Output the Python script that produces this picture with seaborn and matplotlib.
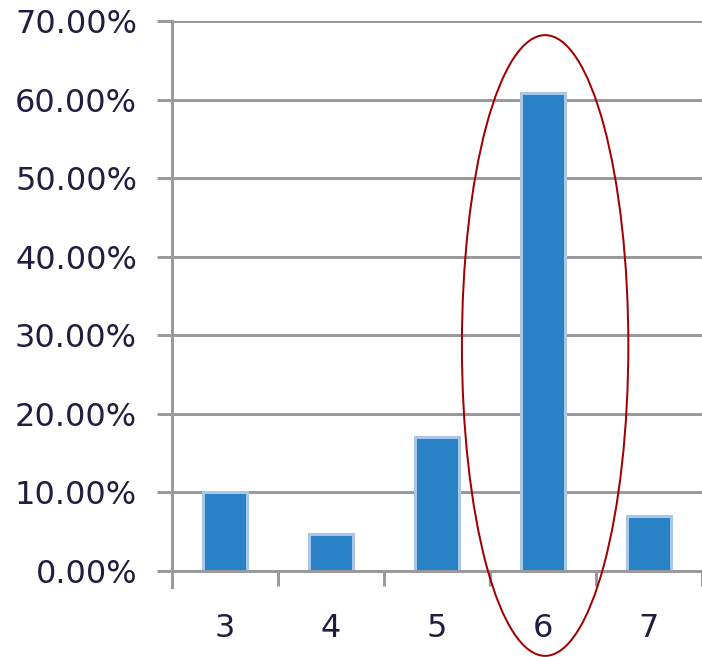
import matplotlib
matplotlib.use("Agg")
import matplotlib.pyplot as plt
from matplotlib.patches import Ellipse
from matplotlib.ticker import FuncFormatter, FixedLocator
import seaborn as sns
import pandas as pd

# Share of responses per score
scores = ["3", "4", "5", "6", "7"]
shares = [0.100, 0.047, 0.171, 0.609, 0.070]

df = pd.DataFrame({"score": scores, "share": shares})

sns.set_theme(style="white")
plt.rcParams["font.family"] = ["DejaVu Sans"]

DPI = 100
fig = plt.figure(figsize=(7.02, 6.57), dpi=DPI)
ax = fig.add_axes([172 / 702, 1 - 571 / 657, 530 / 702, 550 / 657])

grid_c = "#9A9A9E"
text_c = "#1E1E40"
px = 72 / DPI  # one pixel in points

sns.barplot(data=df, x="score", y="share", color="#2A82C6", width=0.415,
            edgecolor="#A8C6E8", linewidth=3 * px, saturation=1, ax=ax)

ax.set_xlim(-0.5, len(scores) - 0.5)
ax.set_ylim(0, 0.70)
ax.set_yticks([i / 10 for i in range(8)])
ax.yaxis.set_major_formatter(FuncFormatter(lambda v, _: f"{v * 100:.2f}%"))

# category boundary tick marks, labels centred between them
ax.xaxis.set_minor_locator(FixedLocator([i - 0.5 for i in range(len(scores) + 1)]))
ax.tick_params(axis="x", which="major", length=0, pad=30, labelsize=23,
               labelcolor=text_c)
ax.tick_params(axis="x", which="minor", bottom=True, length=15 * px,
               width=3 * px, color=grid_c, direction="out")
ax.tick_params(axis="y", left=True, length=15 * px, width=3 * px, color=grid_c,
               pad=20 * px, labelsize=23, labelcolor=text_c, direction="out")

ax.set_axisbelow(True)
ax.yaxis.grid(True, color=grid_c, linewidth=3 * px)
ax.xaxis.grid(False)

for side in ["top", "right"]:
    ax.spines[side].set_visible(False)
ax.spines["left"].set_color(grid_c)
ax.spines["left"].set_linewidth(3 * px)
ax.spines["left"].set_bounds(-0.0205, 0.70)
ax.spines["bottom"].set_color(grid_c)
ax.spines["bottom"].set_linewidth(3 * px)

ax.set_xlabel("")
ax.set_ylabel("")

# highlight ring around the dominant score
ax.add_patch(Ellipse((3.02, 0.287), width=1.57, height=0.79, fill=False,
                     edgecolor="#A00000", linewidth=2 * px, clip_on=False,
                     zorder=5))

fig.savefig("out.png", dpi=DPI, facecolor="white")
